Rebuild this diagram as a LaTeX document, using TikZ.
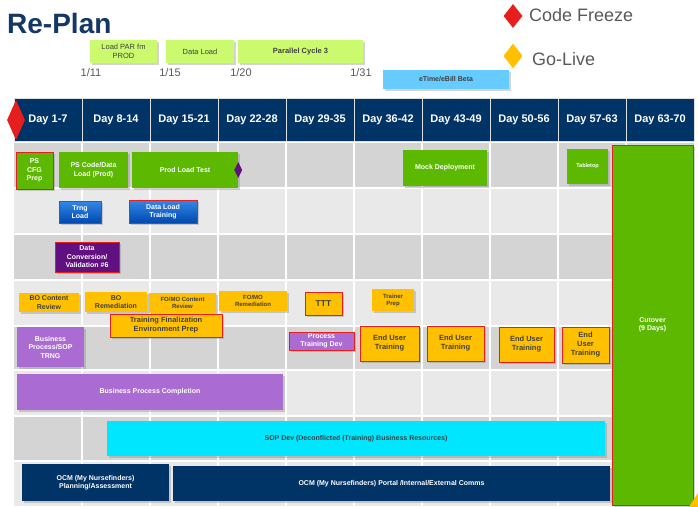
\documentclass[tikz,border=0pt]{standalone}
\usepackage{fontspec}
\setmainfont{Liberation Sans}
\usepackage{xcolor}
\usepackage{tikz}
\usetikzlibrary{positioning, shapes.geometric, shadows}
\definecolor{PlanNavy}{RGB}{0,51,102}
\definecolor{TitleBlue}{RGB}{20,56,102}
\definecolor{FrzRed}{RGB}{230,30,30}
\definecolor{LiveGold}{RGB}{255,192,0}
\definecolor{TaskGreen}{RGB}{92,184,0}
\definecolor{LimeTop}{RGB}{204,250,110}
\definecolor{BetaBlue}{RGB}{102,204,255}
\definecolor{TrngTop}{RGB}{51,136,230}
\definecolor{TrngBot}{RGB}{0,72,175}
\definecolor{DeepPurple}{RGB}{96,16,128}
\definecolor{SoftPurple}{RGB}{170,108,210}
\definecolor{SopCyan}{RGB}{0,230,255}
\definecolor{RowDark}{RGB}{212,212,212}
\definecolor{RowLight}{RGB}{233,233,233}
\definecolor{TxtGray}{RGB}{64,64,64}
\definecolor{LegGray}{RGB}{89,89,89}
\tikzset{
    dayhead/.style={
        rectangle, fill=PlanNavy, draw=white!75!gray, line width=0.8pt,
        minimum width=68pt, minimum height=43pt, text=white,
        font=\bfseries\fontsize{11}{13}\selectfont
    },
    taskbox/.style={
        rectangle, inner sep=1pt, align=center,
        font=\bfseries\fontsize{7}{8.5}\selectfont,
        drop shadow={shadow xshift=1.5pt, shadow yshift=-1.5pt, opacity=0.35}
    },
    frz/.style={
        draw=FrzRed, line width=1pt
    },
    toptask/.style={
        taskbox, fill=LimeTop, text=TxtGray, minimum height=23pt,
        font=\fontsize{7.5}{9}\selectfont
    },
    greentask/.style={taskbox, fill=TaskGreen, text=white},
    bluetask/.style={taskbox, top color=TrngTop, bottom color=TrngBot, text=white},
    golden/.style={taskbox, fill=LiveGold, text=TxtGray},
    purptask/.style={taskbox, fill=SoftPurple, text=white},
    navytask/.style={taskbox, fill=PlanNavy, text=white},
    datelbl/.style={
        font=\fontsize{11}{13}\selectfont, text=LegGray, inner sep=0pt
    },
    gridline/.style={
        white, line width=1.5pt
    }
}
\begin{document}
\begin{tikzpicture}[x=1pt, y=-1pt]
    \useasboundingbox (0,0) rectangle (698,506);

    % --- title and legend ---
    \node[anchor=base west, inner sep=0pt, text=TitleBlue,
          font=\bfseries\fontsize{28}{30}\selectfont] (title) at (7,33) {Re-Plan};
    \node[diamond, fill=FrzRed, inner sep=0pt, minimum width=19pt, minimum height=24pt] (frzmark) at (513,16) {};
    \node[anchor=base west, inner sep=0pt, text=LegGray, font=\fontsize{18}{20}\selectfont] (frzlbl) at (529,21) {Code Freeze};
    \node[diamond, fill=LiveGold, inner sep=0pt, minimum width=19pt, minimum height=25pt] (livemark) at (513,56) {};
    \node[anchor=base west, inner sep=0pt, text=LegGray, font=\fontsize{18}{20}\selectfont] (livelbl) at (532,65) {Go-Live};

    % --- January milestones ---
    \node[toptask, minimum width=67pt] (loadpar) at (123.5,51.5) {Load PAR fm\\PROD};
    \node[toptask, minimum width=68pt] (dataload) at (200,51.5) {Data Load};
    \node[toptask, minimum width=125pt, font=\bfseries\fontsize{7.5}{9}\selectfont] (parallel) at (300.5,51.5) {Parallel Cycle 3};
    \node[taskbox, fill=BetaBlue, text=TxtGray, minimum width=126pt, minimum height=19pt,
          font=\bfseries\fontsize{7}{8}\selectfont] (etime) at (446,79.5) {eTime/eBill Beta};
    \node[datelbl] (jan11) at (91,73) {1/11};
    \node[datelbl] (jan15) at (170,73) {1/15};
    \node[datelbl] (jan20) at (241,73) {1/20};
    \node[datelbl] (jan31) at (361,73) {1/31};

    % --- grid rows and columns ---
    \foreach \ya/\yb/\rc in {143/188/RowDark, 188/234/RowLight, 234/280/RowDark, 280/326/RowLight,
                             326/370/RowDark, 370/416/RowLight, 416/461/RowDark, 461/506/RowLight}
        \fill[\rc] (14,\ya) rectangle (694,\yb);
    \foreach \k in {1,...,9}
        \draw[gridline] (14+68*\k,143) -- (14+68*\k,506);
    \foreach \yy in {188,234,280,326,370,416,461}
        \draw[gridline] (14,\yy) -- (694,\yy);

    % --- week header ---
    \foreach \lab [count=\i from 0] in {Day 1-7, Day 8-14, Day 15-21, Day 22-28, Day 29-35,
                                         Day 36-42, Day 43-49, Day 50-56, Day 57-63, Day 63-70}
        \node[dayhead] (day\i) at (48+68*\i,119.5) {\lab};
    \node[diamond, fill=FrzRed, inner sep=0pt, minimum width=18pt, minimum height=40pt] (frzhead) at (16,120) {};

    % --- build and load ---
    \node[greentask, frz, minimum width=37pt, minimum height=37pt] (pscfg) at (34.5,170.5) {PS\\CFG\\Prep};
    \node[greentask, minimum width=69pt, minimum height=36pt] (pscode) at (93.5,170) {PS Code/Data\\Load (Prod)};
    \node[greentask, minimum width=106pt, minimum height=36pt] (prodload) at (185,170) {Prod Load Test};
    \node[diamond, fill=DeepPurple, inner sep=0pt, minimum width=8pt, minimum height=16pt] (prodmark) at (prodload.east) {};
    \node[greentask, minimum width=84pt, minimum height=36pt] (mock) at (445,168) {Mock Deployment};
    \node[greentask, minimum width=41pt, minimum height=35pt, font=\bfseries\fontsize{5.5}{6.5}\selectfont] (tabletop) at (587.5,166.5) {Tabletop};
    \node[greentask, frz, line width=0.6pt, minimum width=81pt, minimum height=360pt] (cutover) at (652.5,325) {Cutover\\(9 Days)};

    \node[bluetask, frz, minimum width=42pt, minimum height=22pt] (trngload) at (80,212) {Trng\\Load};
    \node[bluetask, frz, minimum width=68pt, minimum height=23pt] (dltrain) at (163,211.5) {Data Load\\Training};
    \node[taskbox, fill=DeepPurple, text=white, frz, minimum width=64pt, minimum height=30pt] (dconv) at (87,257) {Data\\Conversion/\\Validation \#6};

    % --- content and training ---
    \node[golden, minimum width=60pt, minimum height=19pt] (bocr) at (49,302.5) {BO Content\\Review};
    \node[golden, minimum width=62pt, minimum height=20pt] (borem) at (116,302) {BO\\Remediation};
    \node[golden, minimum width=67pt, minimum height=20pt, font=\bfseries\fontsize{6}{7}\selectfont] (focr) at (182.5,303) {FO/MO Content\\Review};
    \node[golden, minimum width=68pt, minimum height=20pt, font=\bfseries\fontsize{6}{7}\selectfont] (forem) at (253,301) {FO/MO\\Remediation};
    \node[golden, frz, minimum width=37pt, minimum height=23pt, font=\bfseries\fontsize{8.5}{10}\selectfont] (ttt) at (323.5,303.5) {TTT};
    \node[golden, minimum width=42pt, minimum height=22pt, font=\bfseries\fontsize{6}{7}\selectfont] (trprep) at (393,300) {Trainer\\Prep};
    \node[golden, frz, minimum width=112pt, minimum height=23pt, font=\bfseries\fontsize{7.5}{9}\selectfont] (tfin) at (166,325.5) {Training Finalization\\Environment Prep};

    \node[purptask, minimum width=67pt, minimum height=40pt] (bpsop) at (50.5,347) {Business\\Process/SOP\\TRNG};
    \node[purptask, frz, minimum width=65pt, minimum height=18pt] (ptdev) at (321.5,341) {Process\\Training Dev};
    \node[golden, frz, minimum width=59pt, minimum height=35pt, font=\bfseries\fontsize{7.5}{9}\selectfont] (eut1) at (389.5,343.5) {End User\\Training};
    \node[golden, frz, minimum width=57pt, minimum height=35pt, font=\bfseries\fontsize{7.5}{9}\selectfont] (eut2) at (455.5,343.5) {End User\\Training};
    \node[golden, frz, minimum width=55pt, minimum height=35pt, font=\bfseries\fontsize{7.5}{9}\selectfont] (eut3) at (526.5,344.5) {End User\\Training};
    \node[golden, frz, minimum width=47pt, minimum height=36pt, font=\bfseries\fontsize{7.5}{9}\selectfont] (eut4) at (585.5,345) {End\\User\\Training};

    % --- long running streams ---
    \node[purptask, minimum width=266pt, minimum height=36pt] (bpcomp) at (150,392) {Business Process Completion};
    \node[taskbox, fill=SopCyan, text=TxtGray, minimum width=498pt, minimum height=35pt] (sopdev) at (356,438.5) {SOP Dev (Deconflicted (Training) Business Resources)};
    \node[navytask, minimum width=147pt, minimum height=37pt] (ocmplan) at (95.5,482.5) {OCM (My Nursefinders)\\Planning/Assessment};
    \node[navytask, minimum width=437pt, minimum height=35pt] (ocmcomms) at (391.5,483.5) {OCM (My Nursefinders) Portal /Internal/External Comms};

    \node[diamond, fill=LiveGold, inner sep=0pt, minimum width=24pt, minimum height=36pt] (livecut) at (700,508) {};
\end{tikzpicture}
\end{document}
